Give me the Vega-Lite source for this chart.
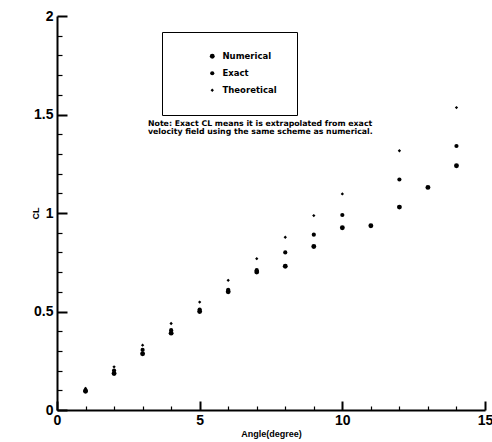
{
  "$schema": "https://vega.github.io/schema/vega-lite/v6.json",
  "width": 428,
  "height": 394,
  "autosize": "none",
  "padding": {"left": 57, "top": 16, "right": 7, "bottom": 32},
  "background": "white",
  "config": {
    "view": {"stroke": null},
    "font": "Liberation Sans"
  },
  "title": {
    "text": ["Note: Exact  CL means it is extrapolated from exact", "velocity field using the same scheme as numerical."],
    "anchor": "start", "frame": "group", "orient": "top",
    "offset": 0, "dx": 91, "dy": 127,
    "baseline": "top", "align": "left",
    "font": "DejaVu Sans", "fontWeight": "bold", "fontSize": 7.8, "lineHeight": 8.5,
    "color": "black"
  },
  "data": {
    "values": [
      {"Angle": 1, "CL": 0.110, "Series": "Theoretical"},
      {"Angle": 2, "CL": 0.219, "Series": "Theoretical"},
      {"Angle": 3, "CL": 0.329, "Series": "Theoretical"},
      {"Angle": 4, "CL": 0.439, "Series": "Theoretical"},
      {"Angle": 5, "CL": 0.548, "Series": "Theoretical"},
      {"Angle": 6, "CL": 0.658, "Series": "Theoretical"},
      {"Angle": 7, "CL": 0.768, "Series": "Theoretical"},
      {"Angle": 8, "CL": 0.877, "Series": "Theoretical"},
      {"Angle": 9, "CL": 0.987, "Series": "Theoretical"},
      {"Angle": 10, "CL": 1.097, "Series": "Theoretical"},
      {"Angle": 12, "CL": 1.316, "Series": "Theoretical"},
      {"Angle": 14, "CL": 1.535, "Series": "Theoretical"},
      {"Angle": 1, "CL": 0.100, "Series": "Exact"},
      {"Angle": 2, "CL": 0.200, "Series": "Exact"},
      {"Angle": 3, "CL": 0.305, "Series": "Exact"},
      {"Angle": 4, "CL": 0.405, "Series": "Exact"},
      {"Angle": 5, "CL": 0.510, "Series": "Exact"},
      {"Angle": 6, "CL": 0.610, "Series": "Exact"},
      {"Angle": 7, "CL": 0.710, "Series": "Exact"},
      {"Angle": 8, "CL": 0.800, "Series": "Exact"},
      {"Angle": 9, "CL": 0.890, "Series": "Exact"},
      {"Angle": 10, "CL": 0.990, "Series": "Exact"},
      {"Angle": 12, "CL": 1.170, "Series": "Exact"},
      {"Angle": 14, "CL": 1.340, "Series": "Exact"},
      {"Angle": 1, "CL": 0.095, "Series": "Numerical"},
      {"Angle": 2, "CL": 0.185, "Series": "Numerical"},
      {"Angle": 3, "CL": 0.285, "Series": "Numerical"},
      {"Angle": 4, "CL": 0.390, "Series": "Numerical"},
      {"Angle": 5, "CL": 0.500, "Series": "Numerical"},
      {"Angle": 6, "CL": 0.600, "Series": "Numerical"},
      {"Angle": 7, "CL": 0.700, "Series": "Numerical"},
      {"Angle": 8, "CL": 0.730, "Series": "Numerical"},
      {"Angle": 9, "CL": 0.830, "Series": "Numerical"},
      {"Angle": 10, "CL": 0.925, "Series": "Numerical"},
      {"Angle": 11, "CL": 0.935, "Series": "Numerical"},
      {"Angle": 12, "CL": 1.030, "Series": "Numerical"},
      {"Angle": 13, "CL": 1.130, "Series": "Numerical"},
      {"Angle": 14, "CL": 1.240, "Series": "Numerical"}
    ]
  },
  "mark": {"type": "point", "filled": true, "color": "black", "opacity": 1},
  "encoding": {
    "x": {
      "field": "Angle", "type": "quantitative",
      "scale": {"domain": [0, 15], "nice": false, "zero": false},
      "axis": {
        "orient": "bottom",
        "title": "Angle(degree)",
        "titleFont": "Liberation Sans", "titleFontWeight": "bold", "titleFontSize": 9, "titleColor": "black",
        "titleY": 23, "titleBaseline": "middle",
        "values": [0, 1, 2, 3, 4, 5, 6, 7, 8, 9, 10, 11, 12, 13, 14, 15],
        "labelExpr": "datum.value % 5 == 0 ? datum.label : ''",
        "format": "d",
        "labelFont": "Liberation Sans", "labelFontWeight": "bold", "labelFontSize": 14, "labelColor": "black",
        "labelPadding": 12,
        "labelFlush": false,
        "labelOverlap": false,
        "ticks": true,
        "tickSize": {"condition": {"test": "datum.value % 5 == 0", "value": -9}, "value": -4},
        "tickWidth": {"condition": {"test": "datum.value % 5 == 0", "value": 2}, "value": 1.2},
        "tickColor": "black",
        "domainColor": "black", "domainWidth": 2,
        "grid": false
      }
    },
    "y": {
      "field": "CL", "type": "quantitative",
      "scale": {"domain": [0, 2], "nice": false, "zero": false},
      "axis": {
        "orient": "left",
        "title": "CL",
        "titleFont": "Liberation Sans", "titleFontWeight": "bold", "titleFontSize": 9, "titleColor": "black",
        "titleX": -22, "titleY": 197, "titleAngle": -90, "titleAlign": "center", "titleBaseline": "middle",
        "values": [0, 0.1, 0.2, 0.3, 0.4, 0.5, 0.6, 0.7, 0.8, 0.9, 1, 1.1, 1.2, 1.3, 1.4, 1.5, 1.6, 1.7, 1.8, 1.9, 2],
        "labelExpr": "abs(datum.value * 2 - round(datum.value * 2)) < 0.001 ? format(datum.value, '~g') : ''",
        "labelFont": "Liberation Sans", "labelFontWeight": "bold", "labelFontSize": 14, "labelColor": "black",
        "labelPadding": 14,
        "labelFlush": false,
        "labelOverlap": false,
        "ticks": true,
        "tickSize": {"condition": {"test": "abs(datum.value * 2 - round(datum.value * 2)) < 0.001", "value": -10}, "value": -5},
        "tickWidth": {"condition": {"test": "abs(datum.value * 2 - round(datum.value * 2)) < 0.001", "value": 2}, "value": 1.2},
        "tickColor": "black",
        "domainColor": "black", "domainWidth": 2,
        "grid": false
      }
    },
    "shape": {
      "field": "Series", "type": "nominal",
      "scale": {"domain": ["Numerical", "Exact", "Theoretical"], "range": ["circle", "circle", "diamond"]},
      "legend": {
        "title": null,
        "orient": "none", "legendX": 105, "legendY": 16,
        "strokeColor": "black", "fillColor": "white",
        "padding": 20,
        "symbolOffset": 26,
        "labelOffset": 6,
        "rowPadding": 8,
        "symbolFillColor": "black", "symbolStrokeColor": "black", "symbolStrokeWidth": 0,
        "labelFont": "DejaVu Sans", "labelFontWeight": "bold", "labelFontSize": 8.5, "labelColor": "black",
        "encode": {"legend": {"update": {"strokeWidth": {"value": 1.5}}}}
      }
    },
    "size": {
      "field": "Series", "type": "nominal",
      "scale": {"domain": ["Numerical", "Exact", "Theoretical"], "range": [24, 11, 13]},
      "legend": {
        "title": null,
        "orient": "none", "legendX": 105, "legendY": 16,
        "strokeColor": "black", "fillColor": "white",
        "padding": 20,
        "symbolOffset": 26,
        "labelOffset": 6,
        "rowPadding": 8,
        "symbolFillColor": "black", "symbolStrokeColor": "black", "symbolStrokeWidth": 0,
        "labelFont": "DejaVu Sans", "labelFontWeight": "bold", "labelFontSize": 8.5, "labelColor": "black",
        "encode": {"legend": {"update": {"strokeWidth": {"value": 1.5}}}}
      }
    }
  }
}
